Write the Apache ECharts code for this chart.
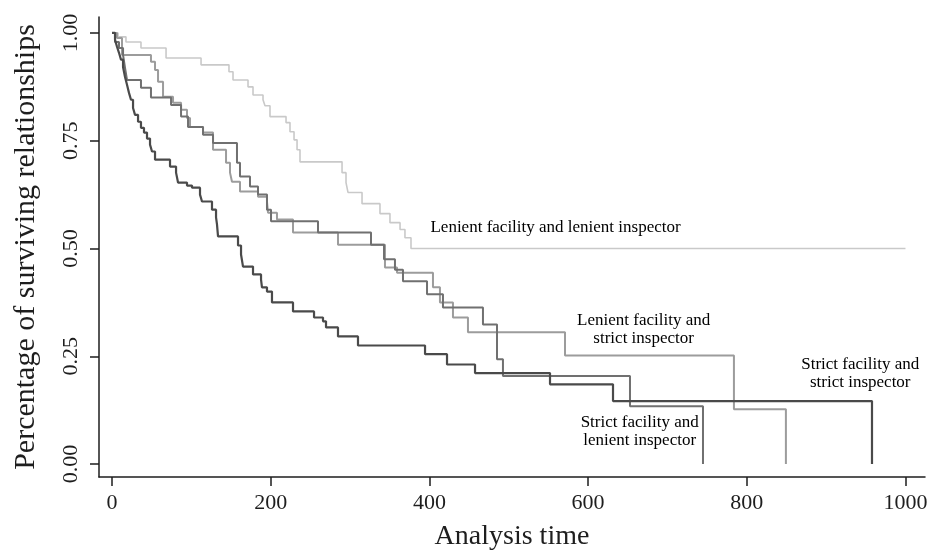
<!DOCTYPE html>
<html>
<head>
<meta charset="utf-8">
<script src="https://cdn.jsdelivr.net/npm/echarts@6/dist/echarts.min.js"></script>
<style>
  html, body { margin: 0; padding: 0; background: #fff; }
  #chart { width: 941px; height: 556px; }
</style>
</head>
<body>
<div id="chart"></div>
<script>
// Kaplan-Meier curves: time of each drop and the survival after it
const tLenLen = [0, 7.6, 17.6, 36.5, 68.1, 112.2, 147.4, 152.5, 171.4, 177.7, 190.3, 192.8, 199.1, 219.3, 224.3, 229.4, 233.2, 236.9, 289.9, 294.9, 297.4, 315.1, 337.7, 350.3, 363, 369.2, 376.8, 1000]
const sLenLen = [1, 0.991, 0.979, 0.965, 0.942, 0.926, 0.910, 0.891, 0.875, 0.856, 0.845, 0.831, 0.806, 0.792, 0.771, 0.752, 0.729, 0.701, 0.676, 0.653, 0.630, 0.604, 0.581, 0.560, 0.544, 0.525, 0.5, 0.5]

const tLenStr = [0, 6.3, 12.6, 49.1, 54.2, 58.0, 64.3, 76.9, 87.0, 94.5, 98.3, 114.7, 127.3, 143.7, 148.7, 151.2, 161.3, 184.0, 195.3, 196.6, 207.9, 228.1, 284.8, 344.0, 359.2, 404.5, 413.3, 429.7, 448.6, 570.9, 783.8, 849.3]
const sLenStr = [1, 0.988, 0.949, 0.933, 0.914, 0.887, 0.852, 0.838, 0.822, 0.803, 0.782, 0.769, 0.729, 0.699, 0.676, 0.655, 0.632, 0.620, 0.609, 0.583, 0.567, 0.537, 0.509, 0.456, 0.444, 0.410, 0.375, 0.340, 0.306, 0.252, 0.127, 0]

const tStrLen = [0, 3.8, 8.8, 13.9, 16.4, 18.9, 36.5, 49.1, 74.4, 87.0, 95.8, 114.7, 127.3, 157.5, 161.3, 173.9, 184.0, 195.3, 200.4, 259.6, 326.4, 342.8, 356.6, 366.7, 397.0, 417.1, 467.5, 485.2, 492.7, 652.8, 744.8]
const sStrLen = [1, 0.979, 0.965, 0.949, 0.919, 0.891, 0.873, 0.850, 0.833, 0.806, 0.782, 0.764, 0.745, 0.699, 0.667, 0.644, 0.625, 0.590, 0.563, 0.537, 0.509, 0.475, 0.451, 0.424, 0.394, 0.363, 0.324, 0.243, 0.204, 0.134, 0]

const tStrStr = [0, 3.8, 6.3, 8.8, 11.3, 13.9, 16.4, 18.9, 21.4, 23.9, 26.5, 29, 32.8, 36.5, 40.3, 44.1, 47.9, 50.4, 54.2, 73.1, 80.7, 83.2, 94.5, 100.8, 110.9, 113.4, 126, 131.1, 132.3, 133.6, 158.8, 162.6, 165.1, 177.7, 187.8, 189, 195.3, 201.6, 228.1, 254.6, 265.9, 269.7, 284.8, 310, 394.5, 422.2, 457.5, 552, 631.4, 957.8]
const sStrStr = [1, 0.984, 0.968, 0.954, 0.938, 0.921, 0.898, 0.880, 0.861, 0.845, 0.826, 0.810, 0.794, 0.780, 0.769, 0.755, 0.741, 0.725, 0.706, 0.690, 0.676, 0.653, 0.646, 0.641, 0.625, 0.609, 0.590, 0.572, 0.556, 0.528, 0.507, 0.486, 0.458, 0.440, 0.428, 0.410, 0.400, 0.375, 0.354, 0.340, 0.331, 0.317, 0.296, 0.275, 0.255, 0.231, 0.211, 0.185, 0.146, 0]

const xTicks = [0, 200, 400, 600, 800, 1000]
const yTicks = [0, 0.25, 0.5, 0.75, 1]

const noteText = ['Lenient facility and lenient inspector', 'Lenient facility and\nstrict inspector', 'Strict facility and\nlenient inspector', 'Strict facility and\nstrict inspector']
const noteAt = [[559, 0.549], [670, 0.3125], [665, 0.076], [943, 0.211]]

const serif = '"Liberation Serif", "DejaVu Serif", serif'
const ink = '#1e1e1e'

function pairs(ts, ss){
    return ts.map((t, i) => [t, ss[i]])
}

function curve(name, ts, ss, color, width){
    return {
        name: name,
        type: 'line',
        step: 'end',
        symbol: 'none',
        data: pairs(ts, ss),
        lineStyle: { color: color, width: width },
        silent: true
    }
}

const ec = echarts.init(document.getElementById('chart'), null, { renderer: 'canvas' })

const option = {
    backgroundColor: '#ffffff',
    animation: false,
    grid: { left: 99, right: 16, top: 17, bottom: 78 },
    xAxis: {
        type: 'value',
        min: -16.4,
        max: 1024.6,
        name: 'Analysis time',
        nameLocation: 'middle',
        nameGap: 46,
        nameTextStyle: { fontFamily: serif, fontSize: 28, color: ink },
        axisLine: { onZero: false, lineStyle: { color: ink, width: 1.5 } },
        axisTick: { customValues: xTicks, length: 9, lineStyle: { color: ink, width: 1.5 } },
        axisLabel: { customValues: xTicks, margin: 15, fontFamily: serif, fontSize: 22, color: ink, formatter: v => String(v) },
        splitLine: { show: false }
    },
    yAxis: {
        type: 'value',
        min: -0.03,
        max: 1.037,
        name: 'Percentage of surviving relationships',
        nameLocation: 'middle',
        nameGap: 58,
        nameTextStyle: { fontFamily: serif, fontSize: 30, color: ink },
        axisLine: { show: true, onZero: false, lineStyle: { color: ink, width: 1.5 } },
        axisTick: { show: true, customValues: yTicks, length: 9, lineStyle: { color: ink, width: 1.5 } },
        axisLabel: {
            customValues: yTicks,
            rotate: 90,
            margin: 17,
            fontFamily: serif,
            fontSize: 22,
            color: ink,
            formatter: v => v.toFixed(2)
        },
        splitLine: { show: false }
    },
    series: [
        curve('Lenient facility and lenient inspector', tLenLen, sLenLen, '#c9c9c9', 1.6),
        curve('Lenient facility and strict inspector', tLenStr, sLenStr, '#9c9c9c', 2),
        curve('Strict facility and lenient inspector', tStrLen, sStrLen, '#707070', 2),
        curve('Strict facility and strict inspector', tStrStr, sStrStr, '#4a4a4a', 2.2),
        {
            name: 'notes',
            type: 'scatter',
            symbolSize: 0,
            itemStyle: { color: '#ffffff', opacity: 1 },
            silent: true,
            data: noteAt.map((p, i) => ({ value: p, name: noteText[i] })),
            label: {
                show: true,
                position: 'inside',
                formatter: '{b}',
                align: 'center',
                verticalAlign: 'middle',
                fontFamily: serif,
                fontSize: 17,
                lineHeight: 18,
                color: '#000000',
                opacity: 1,
                textBorderWidth: 0
            },
            z: 5
        }
    ]
}

ec.setOption(option)
</script>
</body>
</html>
